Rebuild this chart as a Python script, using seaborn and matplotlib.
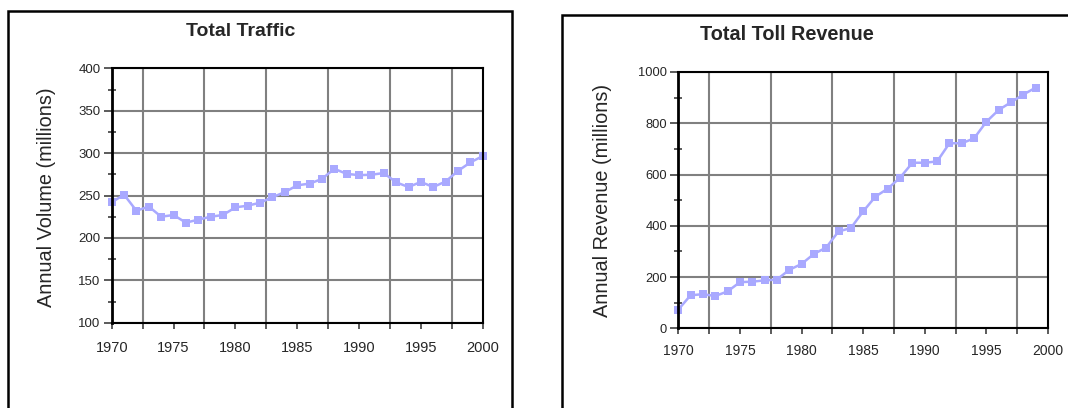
import matplotlib
matplotlib.use("Agg")
import matplotlib.pyplot as plt
import seaborn as sns
import numpy as np
import pandas as pd
from matplotlib.patches import Rectangle
from matplotlib.ticker import FixedLocator

years_traffic = list(range(1970, 2001))
traffic = [242, 251, 232, 237, 225, 227, 218, 221.5, 225, 227, 236, 238, 241.5, 248, 254,
           262, 264, 269.5, 281.5, 275.5, 274, 274.5, 276.5, 265.5, 260, 266, 260, 266.5,
           279, 289, 296.5]
years_revenue = list(range(1970, 2000))
revenue = [73, 129, 133, 126, 144, 180, 182, 187, 190, 228, 251, 290, 315, 378, 391,
           456, 514, 545, 588, 646, 646, 651, 722, 722, 741, 806, 852, 882, 912, 939]

titles = ["Total Traffic", "Total Toll Revenue"]
ylabels = ["Annual Volume (millions)", "Annual Revenue (millions)"]
x_labels = ["1970", "1975", "1980", "1985", "1990", "1995", "2000"]

sns.set_theme(style="white")
plt.rcParams['font.family'] = ['Liberation Sans', 'DejaVu Sans']

W, H = 1068, 408
fig = plt.figure(figsize=(W / 100, H / 100), dpi=100)
fig.patch.set_facecolor("white")

def px_axes(x0, x1, ytop, ybot):
    return fig.add_axes([x0 / W, (H - ybot) / H, (x1 - x0) / W, (ybot - ytop) / H])

ax1 = px_axes(111.7, 482.7, 68.3, 322.7)
ax2 = px_axes(678.3, 1048, 72, 328.3)

line_color = "#a9a9ff"
df1 = pd.DataFrame({"year": years_traffic, "value": traffic})
df2 = pd.DataFrame({"year": years_revenue, "value": revenue})

sns.lineplot(data=df1, x="year", y="value", ax=ax1, color=line_color, marker="s",
             markersize=5.5, markeredgewidth=0, linewidth=1.8, clip_on=False)
sns.lineplot(data=df2, x="year", y="value", ax=ax2, color=line_color, marker="s",
             markersize=5.5, markeredgewidth=0, linewidth=1.8, clip_on=False)

specs = [
    (ax1, (100, 400), 50, 25, 10.5, 9.5, 9),
    (ax2, (0, 1000), 200, 100, 10, 9.3, 7),
]
for i, (ax, ylim, ymaj, ymin, xfs, yfs, xpad) in enumerate(specs):
    ax.set_xlim(1970, 2000)
    ax.set_ylim(*ylim)
    xt = [int(s) for s in x_labels]
    ax.set_xticks(xt)
    ax.set_xticklabels(x_labels, fontsize=xfs)
    ax.xaxis.set_minor_locator(FixedLocator([1972.5 + 5 * k for k in range(6)]))
    yt = list(np.arange(ylim[0], ylim[1] + 1, ymaj))
    ax.set_yticks(yt)
    ax.set_yticklabels([str(int(v)) for v in yt], fontsize=yfs)
    ax.yaxis.set_minor_locator(FixedLocator(list(np.arange(ylim[0] + ymin, ylim[1], ymaj))))
    ax.grid(False)
    ax.xaxis.grid(True, which="minor", color="#808080", linewidth=1.5)
    ax.yaxis.grid(True, which="major", color="#808080", linewidth=1.5)
    ax.set_axisbelow(True)
    for sp in ax.spines.values():
        sp.set_visible(True)
        sp.set_color("black")
        sp.set_linewidth(1.5)
    ax.spines["left"].set_linewidth(2)
    ax.tick_params(axis="x", which="both", direction="out", length=4, width=1.2,
                   color="#404040", bottom=True, pad=xpad)
    ax.tick_params(axis="y", which="major", direction="out", length=6, width=1.2,
                   color="#404040", left=True, pad=2)
    ax.tick_params(axis="y", which="minor", direction="inout", length=6, width=1.2,
                   color="#404040", left=True)
    ax.set_xlabel("")
    ax.set_ylabel("")

fig.text(241 / W, 1 - 32 / H, titles[0], ha="center", va="center", fontsize=14,
         fontweight="bold")
fig.text(787 / W, 1 - 35 / H, titles[1], ha="center", va="center", fontsize=14.3,
         fontweight="bold")
fig.text(47 / W, 1 - 197 / H, ylabels[0], ha="center", va="center", rotation=90,
         fontsize=14.3)
fig.text(602 / W, 1 - 200 / H, ylabels[1], ha="center", va="center", rotation=90,
         fontsize=14.3)

# outer boxes
fig.add_artist(Rectangle((8 / W, -0.05), (512 - 8) / W, (1 - 11 / H) + 0.05,
                         transform=fig.transFigure, fill=False, edgecolor="black",
                         linewidth=1.8, clip_on=False))
fig.add_artist(Rectangle((562 / W, -0.05), (1075 - 562) / W, (1 - 15 / H) + 0.05,
                         transform=fig.transFigure, fill=False, edgecolor="black",
                         linewidth=1.8, clip_on=False))

fig.savefig("out.png", dpi=100, facecolor="white")
